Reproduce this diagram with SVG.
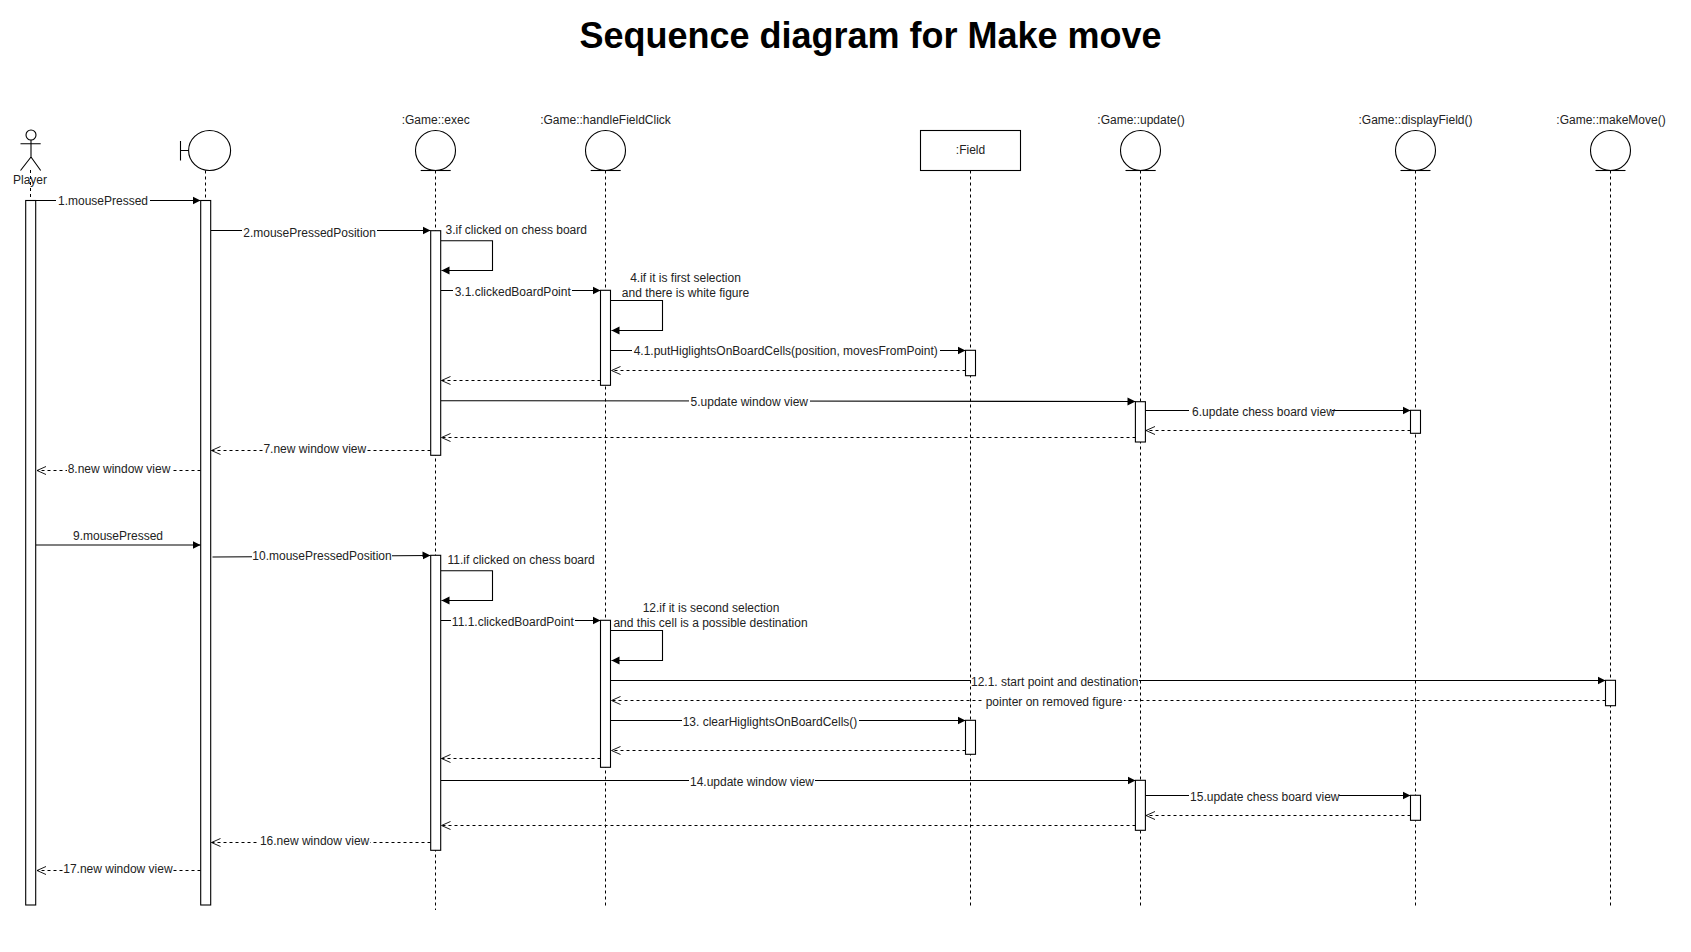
<svg xmlns="http://www.w3.org/2000/svg" width="1691" height="952" viewBox="0 0 1691 952">
<style>
text{font-family:"Liberation Sans",Arial,Helvetica,sans-serif;font-size:12px;fill:#222;text-anchor:middle}
text.title{font-size:36px;font-weight:bold;fill:#000}
text.st{text-anchor:start}
.s{fill:none;stroke:#000;stroke-width:1.1}
.w{fill:#fff;stroke:#000;stroke-width:1.1}
.life{fill:none;stroke:#000;stroke-width:1;stroke-dasharray:3 3}
.call{fill:none;stroke:#000;stroke-width:1.1;marker-end:url(#block)}
.ret{fill:none;stroke:#000;stroke-width:1;stroke-dasharray:3 3;marker-end:url(#open)}
.lb{fill:#fff}
</style>
<defs>
<marker id="block" markerUnits="userSpaceOnUse" markerWidth="10" markerHeight="10" refX="8" refY="5" orient="auto"><path d="M0 1 L8 5 L0 9 Z" fill="#000"/></marker>
<marker id="open" markerUnits="userSpaceOnUse" markerWidth="12" markerHeight="12" refX="10" refY="6" orient="auto"><path d="M1 2 L10 6 L1 10" fill="none" stroke="#000" stroke-width="0.9"/></marker>
</defs>
<rect width="1691" height="952" fill="#fff"/>
<text id="title" class="title" x="870.5" y="48">Sequence diagram for Make move</text>

<g id="player">
<line class="life" x1="30.5" y1="170" x2="30.5" y2="200"/>
<circle class="s" cx="31" cy="135" r="5"/>
<path class="s" d="M31 140V157M20.5 143.7H40.7M31 157L20.5 170.5M31 157L40.7 170.5"/>
<text x="30" y="184">Player</text>
<rect class="w" x="25.7" y="200.5" width="10" height="704.5"/>
</g>
<g id="boundary">
<line class="life" x1="205.5" y1="170.5" x2="205.5" y2="200"/>
<ellipse class="s" cx="209.6" cy="150.5" rx="21" ry="20"/>
<path class="s" d="M180.5 141V160.5M180.5 150.5H188.6"/>
<rect class="w" x="200.7" y="200.5" width="10" height="704.5"/>
</g>
<g id="game-exec">
<text x="435.7" y="124">:Game::exec</text>
<line class="life" x1="435.5" y1="170.5" x2="435.5" y2="910"/>
<circle class="s" cx="435.5" cy="150.5" r="20"/>
<path class="s" d="M420.7 170.5H450.7"/>
<rect class="w" x="430.7" y="230.7" width="10" height="224.6"/>
<rect class="w" x="430.7" y="555.3" width="10" height="295"/>
</g>
<g id="game-handleFieldClick">
<text x="605.5" y="124">:Game::handleFieldClick</text>
<line class="life" x1="605.5" y1="170.5" x2="605.5" y2="905.5"/>
<circle class="s" cx="605.5" cy="150.5" r="20"/>
<path class="s" d="M590.7 170.5H620.7"/>
<rect class="w" x="600.5" y="290.3" width="10" height="95"/>
<rect class="w" x="600.5" y="620.3" width="10" height="147"/>
</g>
<g id="field">
<line class="life" x1="970.5" y1="170.5" x2="970.5" y2="905.5"/>
<rect class="w" x="920.5" y="130.5" width="100" height="40"/>
<text x="970.5" y="154">:Field</text>
<rect class="w" x="965.5" y="350.3" width="10" height="25.4"/>
<rect class="w" x="965.5" y="720.3" width="10" height="34"/>
</g>
<g id="game-update">
<text x="1141" y="124">:Game::update()</text>
<line class="life" x1="1140.5" y1="170.5" x2="1140.5" y2="905.5"/>
<circle class="s" cx="1140.5" cy="150.5" r="20"/>
<path class="s" d="M1125.5 170.5H1155.7"/>
<rect class="w" x="1135.4" y="401.7" width="10" height="40.3"/>
<rect class="w" x="1135.4" y="780.3" width="10" height="50"/>
</g>
<g id="game-displayField">
<text x="1415.5" y="124">:Game::displayField()</text>
<line class="life" x1="1415.5" y1="170.5" x2="1415.5" y2="905.5"/>
<circle class="s" cx="1415.5" cy="150.5" r="20"/>
<path class="s" d="M1400.5 170.5H1430.5"/>
<rect class="w" x="1410.5" y="410.3" width="10" height="23"/>
<rect class="w" x="1410.5" y="795.3" width="10" height="25"/>
</g>
<g id="game-makeMove">
<text x="1611" y="124">:Game::makeMove()</text>
<line class="life" x1="1610.5" y1="170.5" x2="1610.5" y2="905.5"/>
<circle class="s" cx="1610.5" cy="150.5" r="20"/>
<path class="s" d="M1595.5 170.5H1625.5"/>
<rect class="w" x="1605.5" y="680.3" width="10" height="25.4"/>
</g>

<g id="connectors">
<path class="call" d="M36 200.5H200.5"/>
<path class="call" d="M211 230.5H430.5"/>
<path class="call" d="M441 240.7H492.5V270.5H441.5"/>
<path class="call" d="M441 290.5H600.5"/>
<path class="call" d="M611 300.5H662.5V330.5H611.5"/>
<path class="call" d="M611 350.5H965.5"/>
<path class="ret" d="M965.5 370.5H611.5"/>
<path class="ret" d="M600.5 380.5H441.5"/>
<path class="call" d="M441 400.7L1135.5 401.5"/>
<path class="call" d="M1145.5 410.5H1410.5"/>
<path class="ret" d="M1410.5 430.5H1146"/>
<path class="ret" d="M1135.5 437.5H441.5"/>
<path class="ret" d="M430.5 450.5H211.5"/>
<path class="ret" d="M200.5 470.5H37"/>
<path class="call" d="M36 545H200.5"/>
<path class="call" d="M212.5 557L430.5 555.5"/>
<path class="call" d="M441 570.7H492.5V600.5H441.5"/>
<path class="call" d="M441 620.5H600.5"/>
<path class="call" d="M611 630.5H662.5V660.5H611.5"/>
<path class="call" d="M611 680.5H1605.5"/>
<path class="ret" d="M1605.5 700.5H611.5"/>
<path class="call" d="M611 720.5H965.5"/>
<path class="ret" d="M965.5 750.5H611.5"/>
<path class="ret" d="M600.5 758.5H441.5"/>
<path class="call" d="M441 780.5H1135.5"/>
<path class="call" d="M1145.5 795.5H1410.5"/>
<path class="ret" d="M1410.5 815.5H1146"/>
<path class="ret" d="M1135.5 825.5H441.5"/>
<path class="ret" d="M430.5 842.5H211.5"/>
<path class="ret" d="M200.5 870.5H37"/>

<rect class="lb" x="56" y="195" width="94" height="12"/><text x="103" y="205">1.mousePressed</text>
<rect class="lb" x="242" y="226" width="135" height="13"/><text x="309.6" y="237">2.mousePressedPosition</text>
<text class="st" x="445.5" y="234">3.if clicked on chess board</text>
<rect class="lb" x="453" y="286" width="119" height="12"/><text x="512.7" y="296">3.1.clickedBoardPoint</text>
<text x="685.5" y="282">4.if it is first selection</text>
<text x="685.5" y="297">and there is white figure</text>
<rect class="lb" x="632" y="345" width="308" height="12"/><text x="785.7" y="355">4.1.putHiglightsOnBoardCells(position, movesFromPoint)</text>
<rect class="lb" x="689" y="396" width="121" height="12"/><text x="749.3" y="406">5.update window view</text>
<rect class="lb" x="1189" y="406" width="143" height="12"/><text x="1263.5" y="416">6.update chess board view</text>
<rect class="lb" x="263" y="444" width="104" height="12"/><text x="314.8" y="453">7.new window view</text>
<rect class="lb" x="67" y="464" width="104" height="12"/><text x="119" y="473">8.new window view</text>
<text x="118" y="540">9.mousePressed</text>
<rect class="lb" x="252" y="550" width="140" height="12"/><text x="322" y="560">10.mousePressedPosition</text>
<text class="st" x="447.5" y="564">11.if clicked on chess board</text>
<rect class="lb" x="451" y="616" width="124" height="12"/><text x="512.8" y="626">11.1.clickedBoardPoint</text>
<text x="711" y="612">12.if it is second selection</text>
<text x="710.5" y="627">and this cell is a possible destination</text>
<rect class="lb" x="971" y="676" width="168" height="12"/><text x="1054.7" y="686">12.1. start point and destination</text>
<rect class="lb" x="984" y="696" width="140" height="12"/><text x="1054" y="706">pointer on removed figure</text>
<rect class="lb" x="682" y="716" width="177" height="12"/><text x="770" y="726">13. clearHiglightsOnBoardCells()</text>
<rect class="lb" x="689" y="776" width="126" height="12"/><text x="752" y="786">14.update window view</text>
<rect class="lb" x="1189" y="791" width="150" height="12"/><text x="1264.8" y="801">15.update chess board view</text>
<rect class="lb" x="259" y="836" width="111" height="12"/><text x="314.6" y="845">16.new window view</text>
<rect class="lb" x="63" y="864" width="110" height="12"/><text x="117.9" y="873">17.new window view</text>
</g>
</svg>
